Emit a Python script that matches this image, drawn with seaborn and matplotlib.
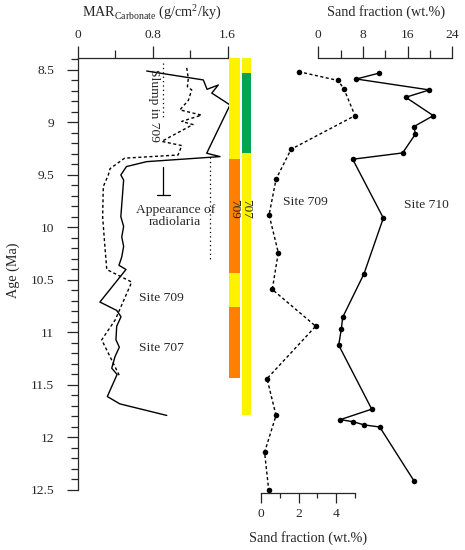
import numpy as np
import pandas as pd
import seaborn as sns
import matplotlib.pyplot as plt
from matplotlib.ticker import MultipleLocator, FixedLocator

# MAR carbonato (g/cm2/ky) - curva continua
mar_solid_age = [8.51, 8.595, 8.684, 8.643, 8.72, 8.833, 9.293, 9.325, 9.373, 9.42, 9.50,
                 9.548, 9.897, 9.99, 10.09, 10.18, 10.28, 10.36, 10.40, 10.71, 10.79,
                 10.85, 10.94, 11.07, 11.14, 11.23, 11.34, 11.40, 11.61, 11.68, 11.79]
mar_solid_val = [0.736, 1.34, 1.38, 1.50, 1.43, 1.625, 1.376, 1.518, 0.736, 0.52, 0.46,
                 0.49, 0.46, 0.49, 0.47, 0.49, 0.47, 0.44, 0.515, 0.237, 0.416,
                 0.462, 0.416, 0.408, 0.444, 0.398, 0.363, 0.42, 0.316, 0.45, 0.95]

# MAR carbonato - curva tracejada
mar_dash_age = [8.48, 8.58, 8.66, 8.69, 8.79, 8.88, 8.93, 8.99, 9.02, 9.06, 9.18, 9.22,
                9.31, 9.34, 9.44, 9.50, 9.61, 9.90, 10.18, 10.40, 10.52, 10.88, 11.07, 11.42]
mar_dash_val = [1.163, 1.18, 1.17, 1.216, 1.18, 1.09, 1.32, 1.11, 1.23, 1.145, 0.896, 1.11,
                1.07, 0.50, 0.345, 0.327, 0.273, 0.266, 0.29, 0.31, 0.576, 0.40, 0.256, 0.45]

# fracao de areia site 709 (eixo de baixo, 0-5)
sand709_age = [8.516, 8.60, 8.68, 8.935, 9.255, 9.54, 9.88, 10.24, 10.59, 10.94,
               11.44, 11.79, 12.14, 12.50]
sand709_val = [2.0, 4.10, 4.41, 5.0, 1.60, 0.80, 0.43, 0.92, 0.60, 2.91,
               0.32, 0.80, 0.19, 0.41]

# fracao de areia site 710 (eixo de cima, 0-24)
sand710_age = [8.53, 8.586, 8.69, 8.76, 8.935, 9.04, 9.11, 9.29, 9.35, 9.91, 10.44,
               10.855, 10.97, 11.12, 11.73, 11.83, 11.85, 11.88, 11.90, 12.41]
sand710_val = [10.88, 6.81, 19.9, 15.66, 20.6, 17.1, 17.4, 15.1, 6.16, 11.65, 8.19,
               4.37, 4.12, 3.65, 9.57, 3.94, 6.27, 8.19, 11.0, 17.1]

# barras de cor (inicio, fim, cor)
bar709_start = [8.386, 9.348, 10.433, 10.757]
bar709_end = [9.348, 10.433, 10.757, 11.433]
bar709_color = ['#FFF200', '#FF8000', '#FFF200', '#FF8000']
bar707_start = [8.386, 8.529, 9.29]
bar707_end = [8.529, 9.29, 11.79]
bar707_color = ['#FFF200', '#00A651', '#FFF200']

sns.set_style('ticks')
plt.rcParams['font.family'] = ['Liberation Serif', 'DejaVu Serif']
plt.rcParams['mathtext.fontset'] = 'custom'
plt.rcParams['mathtext.rm'] = 'Liberation Serif'
plt.rcParams['axes.linewidth'] = 0.9

W, H = 465, 550
fig = plt.figure(figsize=(W / 100, H / 100), dpi=100)
y_top, y_bot = 8.386, 12.5


def px_axes(x0, x1, y0=58, y1=490):
    a = fig.add_axes([x0 / W, 1 - y1 / H, (x1 - x0) / W, (y1 - y0) / H])
    a.set_facecolor('none')
    a.set_ylim(y_bot, y_top)
    return a


def fmt(v):
    return f'{v:g}'


# painel da esquerda
ax = px_axes(77.7, 227.7)
df_solid = pd.DataFrame({'age': mar_solid_age, 'mar': mar_solid_val})
df_dash = pd.DataFrame({'age': mar_dash_age, 'mar': mar_dash_val})
sns.lineplot(df_solid, x='mar', y='age', sort=False, estimator=None, color='black',
             lw=1.0, ax=ax, clip_on=False)
sns.lineplot(df_dash, x='mar', y='age', sort=False, estimator=None, color='black',
             lw=1.0, ls=(0, (2.2, 1.8)), ax=ax, clip_on=False)
ax.set_xlim(0, 1.6)
ax.xaxis.tick_top()
ax.set_xticks([0, 0.8, 1.6], ['0', '0.8', '1.6'])
ax.xaxis.set_minor_locator(FixedLocator([0.4, 1.2]))
yt = np.arange(8.5, 12.51, 0.5)
ax.set_yticks(yt, [fmt(v) for v in yt])
ax.yaxis.set_minor_locator(MultipleLocator(0.1))
ax.tick_params(axis='x', which='major', length=8.5, width=0.9, pad=4, labelsize=9.7)
ax.tick_params(axis='x', which='minor', length=5.5, width=0.9)
ax.tick_params(axis='y', which='major', length=8, width=0.9, pad=9, labelsize=9.7)
ax.tick_params(axis='y', which='minor', length=5, width=0.9)
for s in ['right', 'bottom']:
    ax.spines[s].set_visible(False)
ax.set_xlabel('')
ax.set_ylabel('')

# marcacoes dentro do painel
ax.plot([0.913, 0.913], [8.43, 8.96], color='black', lw=0.9, ls=(0, (1, 2.5)))
ax.plot([1.413, 1.413], [9.325, 10.31], color='black', lw=0.9, ls=(0, (1, 2.5)))
ax.plot([0.913, 0.913], [9.424, 9.69], color='black', lw=0.9)
ax.plot([0.846, 0.985], [9.69, 9.69], color='black', lw=0.9)
ax.text(0.81, 8.84, 'Slump in 709', rotation=270, ha='center', va='center', fontsize=9.7)
ax.text(1.04, 9.89, 'Appearance of\nradiolaria', ha='center', va='center', fontsize=9.7,
        linespacing=0.95)
ax.text(0.89, 10.67, 'Site 709', ha='center', va='center', fontsize=9.7)
ax.text(0.89, 11.145, 'Site 707', ha='center', va='center', fontsize=9.7)

# barras de cor
axb = px_axes(229.3, 251)
axb.set_xlim(0, 2)
axb.bar([0] * 4, np.subtract(bar709_end, bar709_start), bottom=bar709_start, width=0.985,
        align='edge', color=bar709_color, linewidth=0)
axb.bar([1.14] * 3, np.subtract(bar707_end, bar707_start), bottom=bar707_start, width=0.86,
        align='edge', color=bar707_color, linewidth=0)
axb.text(0.49, 9.82, '709', rotation=270, ha='center', va='center', fontsize=9.5)
axb.text(1.57, 9.82, '707', rotation=270, ha='center', va='center', fontsize=9.5)
axb.axis('off')
axb.set_ylim(y_bot, y_top)

# painel da direita - site 710 (eixo de cima)
ax710 = px_axes(318.3, 452.3)
df710 = pd.DataFrame({'age': sand710_age, 'sand': sand710_val})
sns.lineplot(df710, x='sand', y='age', sort=False, estimator=None, color='black', lw=1.0,
             marker='o', markersize=4, markeredgewidth=0, ax=ax710, clip_on=False)
ax710.set_xlim(0, 24)
ax710.xaxis.tick_top()
ax710.set_xticks([0, 8, 16, 24])
ax710.xaxis.set_minor_locator(FixedLocator([4, 12, 20]))
ax710.tick_params(axis='x', which='major', length=8.5, width=0.9, pad=4, labelsize=9.7)
ax710.tick_params(axis='x', which='minor', length=5.5, width=0.9)
ax710.set_yticks([])
for s in ['left', 'right', 'bottom']:
    ax710.spines[s].set_visible(False)
ax710.set_xlabel('')
ax710.set_ylabel('')
ax710.set_ylim(y_bot, y_top)
ax710.text(19.4, 9.786, 'Site 710', ha='center', va='center', fontsize=9.7)

# painel da direita - site 709 (eixo de baixo)
ax709 = px_axes(261, 355)
df709 = pd.DataFrame({'age': sand709_age, 'sand': sand709_val})
sns.lineplot(df709, x='sand', y='age', sort=False, estimator=None, color='black', lw=1.0,
             ls=(0, (2.2, 1.8)), marker='o', markersize=4, markeredgewidth=0, ax=ax709,
             clip_on=False)
ax709.set_xlim(0, 5)
ax709.set_xticks([0, 2, 4])
ax709.xaxis.set_minor_locator(FixedLocator([1, 3, 5]))
ax709.spines['bottom'].set_position(('outward', 2))
ax709.tick_params(axis='x', which='major', direction='out', length=7, width=0.9, pad=4,
                  labelsize=9.7)
ax709.tick_params(axis='x', which='minor', direction='out', length=3.5, width=0.9)
ax709.set_yticks([])
for s in ['left', 'right', 'top']:
    ax709.spines[s].set_visible(False)
ax709.set_xlabel('')
ax709.set_ylabel('')
ax709.set_ylim(y_bot, y_top)
ax709.text(2.34, 9.754, 'Site 709', ha='center', va='center', fontsize=9.7)

# titulos dos eixos
fig.text(152 / W, 1 - 12 / H, r'MAR$_{\mathrm{Carbonate}}$ (g/cm$^{2}$/ky)', ha='center',
         va='center', fontsize=10.2)
fig.text(386 / W, 1 - 12 / H, 'Sand fraction (wt.%)', ha='center', va='center', fontsize=10.2)
fig.text(308 / W, 1 - 538 / H, 'Sand fraction (wt.%)', ha='center', va='center', fontsize=10.2)
fig.text(13 / W, 1 - 270 / H, 'Age (Ma)', rotation=90, ha='center', va='center', fontsize=10.2)

fig.savefig('out.png', dpi=100)
